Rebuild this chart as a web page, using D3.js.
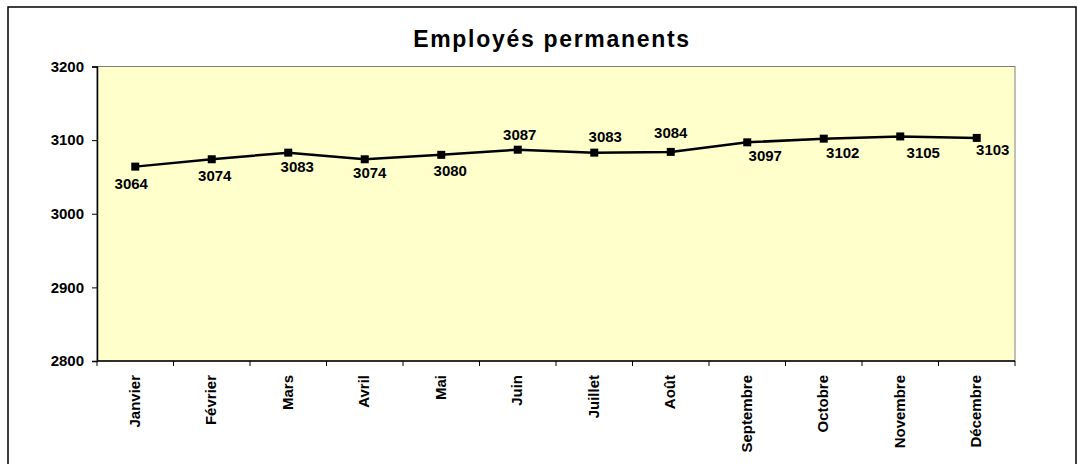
<!DOCTYPE html>
<html>
<head>
<meta charset="utf-8">
<script src="https://cdn.jsdelivr.net/npm/d3@7"></script>
<style>
	body { margin: 0; background: #fff; }
	svg { display: block; font-family: "Liberation Sans", Arial, sans-serif; font-weight: bold; }
</style>
</head>
<body>
<svg id="chart" width="1084" height="464"></svg>
<script>

	// Values
	var months = ["Janvier", "Février", "Mars", "Avril", "Mai", "Juin", "Juillet",
		"Août", "Septembre", "Octobre", "Novembre", "Décembre"];
	var employes = [3064, 3074, 3083, 3074, 3080, 3087, 3083, 3084, 3097, 3102, 3105, 3103];
	var yTicks = [2800, 2900, 3000, 3100, 3200];

	// hand placement of the data labels, as in the original (dx, dy from the point)
	var labelOffsets = [[-4, 22], [3, 22], [9, 19], [5, 19], [9, 21], [2, -10],
		[11, -11], [0, -14], [18, 19], [19, 19], [23, 22], [16, 17]];

	var svg = d3.select("#chart");
	var plot = { left: 97, right: 1015, top: 66.5, bottom: 361 };

	// outer frame
	svg.append("rect")
		.attr("x", 8).attr("y", 7).attr("width", 1068).attr("height", 470)
		.attr("fill", "#fff").attr("stroke", "#000").attr("stroke-width", 1.5);

	svg.append("text")
		.attr("x", 552).attr("y", 47)
		.attr("text-anchor", "middle")
		.style("font-size", "23px").style("letter-spacing", "1.7px")
		.text("Employés permanents");

	var x = d3.scaleBand().domain(months).range([plot.left, plot.right]);
	var y = d3.scaleLinear().domain([2800, 3200]).range([plot.bottom, plot.top]);

	// plot area
	svg.append("rect")
		.attr("x", plot.left).attr("y", plot.top)
		.attr("width", plot.right - plot.left).attr("height", plot.bottom - plot.top)
		.attr("fill", "#ffffcc").attr("stroke", "#808080").attr("stroke-width", 1);

	// y axis
	var yAxis = svg.append("g")
		.attr("transform", "translate(" + plot.left + ",0)")
		.call(d3.axisLeft(y).tickValues(yTicks).tickFormat(d3.format("d")).tickSize(5).tickPadding(8));
	yAxis.select(".domain").attr("stroke", "#000").attr("stroke-width", 1.5);
	yAxis.selectAll(".tick line").attr("stroke", "#000");
	yAxis.selectAll("text")
		.attr("fill", "#000")
		.style("font-size", "15px").style("font-family", "inherit");

	// x axis: line, ticks at band edges, rotated labels
	var xAxis = svg.append("g");
	xAxis.append("line")
		.attr("x1", plot.left).attr("x2", plot.right)
		.attr("y1", plot.bottom).attr("y2", plot.bottom)
		.attr("stroke", "#000").attr("stroke-width", 1.5);
	var edges = months.map(function(m) { return x(m); }).concat([plot.right]);
	xAxis.selectAll(".edge").data(edges).enter().append("line")
		.attr("x1", function(d) { return d; }).attr("x2", function(d) { return d; })
		.attr("y1", plot.bottom).attr("y2", plot.bottom + 5)
		.attr("stroke", "#000");
	xAxis.selectAll(".month").data(months).enter().append("text")
		.attr("transform", function(d) {
			return "translate(" + (x(d) + x.bandwidth() / 2 - 1) + "," + (plot.bottom + 14) + ") rotate(-90)";
		})
		.attr("text-anchor", "end")
		.attr("dy", "0.35em")
		.style("font-size", "15px")
		.text(function(d) { return d; });

	// series
	var pts = employes.map(function(v, i) {
		return { m: months[i], v: v, off: labelOffsets[i] };
	});
	var cx = function(d) { return x(d.m) + x.bandwidth() / 2; };

	svg.append("path")
		.datum(pts)
		.attr("fill", "none").attr("stroke", "#000").attr("stroke-width", 2.5)
		.attr("d", d3.line().x(cx).y(function(d) { return y(d.v); }));

	svg.selectAll(".mark").data(pts).enter().append("rect")
		.attr("x", function(d) { return cx(d) - 4; })
		.attr("y", function(d) { return y(d.v) - 4; })
		.attr("width", 8).attr("height", 8)
		.attr("fill", "#000");

	svg.selectAll(".lbl").data(pts).enter().append("text")
		.attr("x", function(d) { return cx(d) + d.off[0]; })
		.attr("y", function(d) { return y(d.v) + d.off[1]; })
		.attr("text-anchor", "middle")
		.style("font-size", "15px")
		.text(function(d) { return d.v; });

</script>
</body>
</html>
